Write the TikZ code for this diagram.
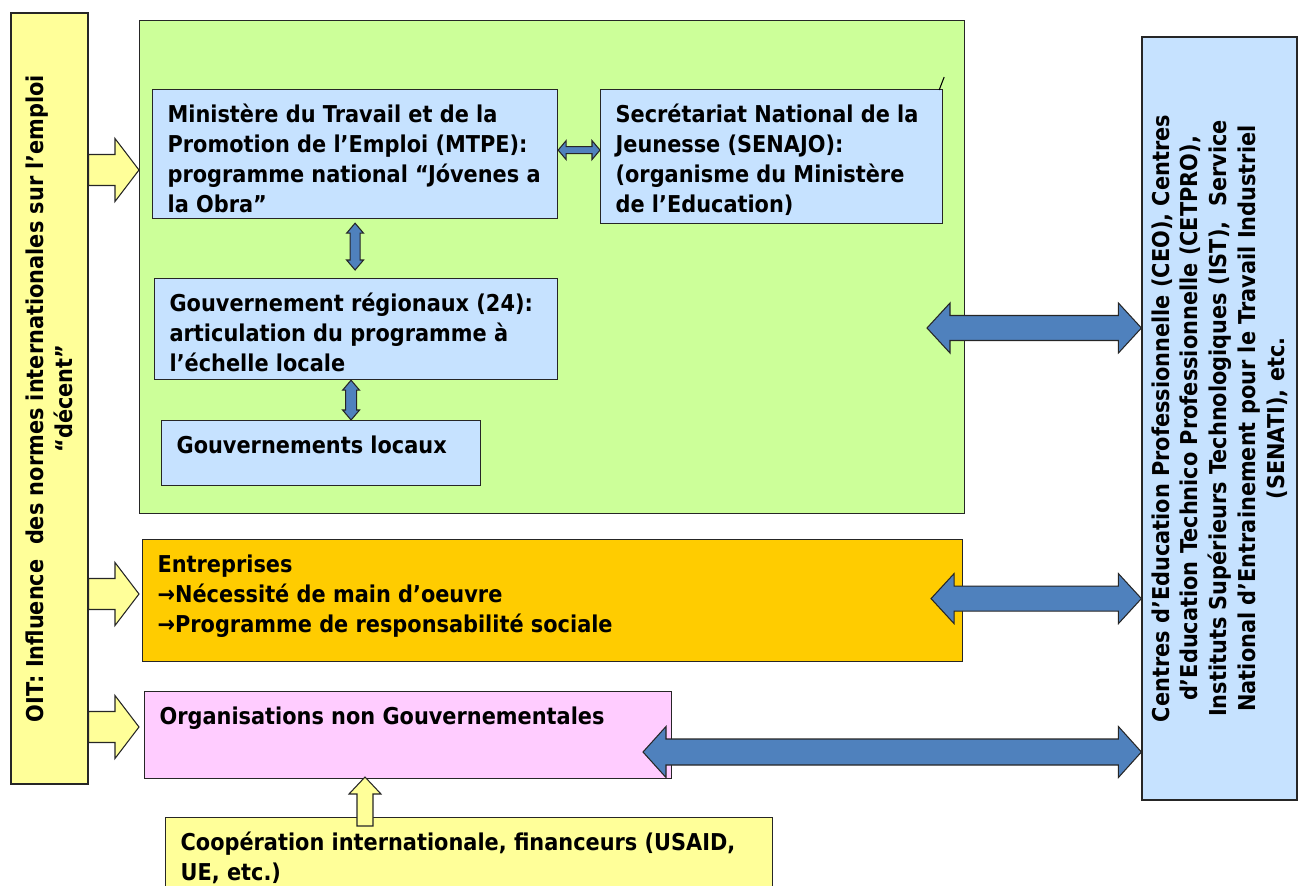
\documentclass[tikz,border=0pt]{standalone}
\usepackage{fontspec}
\setmainfont{DejaVu Sans}[FakeStretch=0.9]
\usetikzlibrary{calc, positioning}

\definecolor{oityellow}{RGB}{255,255,153}
\definecolor{govgreen}{RGB}{204,255,153}
\definecolor{paleblue}{RGB}{198,226,255}
\definecolor{firmorange}{RGB}{255,204,0}
\definecolor{ngopink}{RGB}{255,204,255}
\definecolor{linkblue}{RGB}{79,129,189}

\tikzset{panel/.style = {
  draw=black!85, line width=0.7pt,
  anchor=north west,
  inner xsep=0.3cm, inner ysep=0.24cm,
  font=\fontsize{13.2}{17}\selectfont\bfseries
  }}
\tikzset{sidebar/.style = {
  draw=black!85, line width=0.7pt,
  rotate=90, align=center, inner sep=0pt,
  font=\fontsize{13.2}{16.4}\selectfont\bfseries
  }}
\tikzset{bluearrow/.style = {fill=linkblue, draw=black!85, line width=0.6pt}}
\tikzset{yellowarrow/.style = {fill=oityellow, draw=black!85, line width=0.6pt}}

% text block of fixed size, top aligned
\newcommand{\boxtext}[3]{\parbox[c][#2][t]{#1}{\raggedright\strut #3}}

% block arrows: #1 #2 ends, #3 shaft half width, #4 head half width, #5 head length
\newcommand{\HDouble}[5]{%
  \draw[bluearrow] let \p1=(#1), \p2=(#2) in
    (\x1,\y1) -- (\x1+#5,\y1+#4) -- (\x1+#5,\y1+#3) -- (\x2-#5,\y1+#3)
    -- (\x2-#5,\y1+#4) -- (\x2,\y1) -- (\x2-#5,\y1-#4) -- (\x2-#5,\y1-#3)
    -- (\x1+#5,\y1-#3) -- (\x1+#5,\y1-#4) -- cycle;}
\newcommand{\VDouble}[5]{%
  \draw[bluearrow] let \p1=(#1), \p2=(#2) in
    (\x1,\y1) -- (\x1+#4,\y1-#5) -- (\x1+#3,\y1-#5) -- (\x1+#3,\y2+#5)
    -- (\x1+#4,\y2+#5) -- (\x1,\y2) -- (\x1-#4,\y2+#5) -- (\x1-#3,\y2+#5)
    -- (\x1-#3,\y1-#5) -- (\x1-#4,\y1-#5) -- cycle;}
\newcommand{\HSingle}[5]{%
  \draw[yellowarrow] let \p1=(#1), \p2=(#2) in
    (\x1,\y2+#3) -- (\x2-#5,\y2+#3) -- (\x2-#5,\y2+#4) -- (\x2,\y2)
    -- (\x2-#5,\y2-#4) -- (\x2-#5,\y2-#3) -- (\x1,\y2-#3) -- cycle;}
\newcommand{\VSingleUp}[5]{%
  \draw[yellowarrow] let \p1=(#1), \p2=(#2) in
    (\x2+#3,\y1) -- (\x2+#3,\y2-#5) -- (\x2+#4,\y2-#5) -- (\x2,\y2)
    -- (\x2-#4,\y2-#5) -- (\x2-#3,\y2-#5) -- (\x2-#3,\y1) -- cycle;}

\begin{document}
\begin{tikzpicture}[x={(0.02cm,0cm)}, y={(0cm,-0.02cm)}]

\useasboundingbox (0,0) rectangle (1302,886);

	% Public sector
	\node[panel, fill=govgreen, minimum width=16.5cm, minimum height=9.86cm] (govbox) at (139,20) {};
	\node[panel, fill=paleblue] (mtpe) at (152,89)
		{\boxtext{7.5cm}{2.10cm}{Ministère du Travail et de la\\Promotion de l’Emploi (MTPE):\\programme national “Jóvenes a\\la Obra”}};
	\node[panel, fill=paleblue] (senajo) at (600,89)
		{\boxtext{6.24cm}{2.20cm}{Secrétariat National de la\\Jeunesse (SENAJO):\\(organisme du Ministère\\de l’Education)}};
	\node[panel, fill=paleblue] (region) at (154,278)
		{\boxtext{7.46cm}{1.54cm}{Gouvernement régionaux (24):\\articulation du programme à\\l’échelle locale}};
	\node[panel, fill=paleblue] (local) at (161,420)
		{\boxtext{5.78cm}{0.82cm}{Gouvernements locaux}};
	\draw[line width=0.6pt] ($(senajo.north east)+(-4,1)$) -- ++(5,-13);

	\HDouble{$(mtpe.east)+(0,-4)$}{senajo.west}{0.07cm}{0.19cm}{0.16cm}
	\VDouble{$(mtpe.south)+(0,4)$}{$(region.north)+(0,-8)$}{0.1cm}{0.17cm}{0.2cm}
	\VDouble{$(region.south)+(-5,0)$}{local.north}{0.11cm}{0.17cm}{0.2cm}

	% Private sector and NGOs
	\node[panel, fill=firmorange] (firms) at (142,539)
		{\boxtext{15.8cm}{1.96cm}{Entreprises\\→Nécessité de main d’oeuvre\\→Programme de responsabilité sociale}};
	\node[panel, fill=ngopink] (ngo) at (144,691)
		{\boxtext{9.94cm}{1.26cm}{Organisations non Gouvernementales}};
	\node[panel, fill=oityellow] (coop) at (165,817)
		{\boxtext{11.54cm}{1.52cm}{Coopération internationale, financeurs (USAID,\\UE, etc.)}};

	% Side bars (rotated: south is the right side, north the left side)
	\node[sidebar, fill=oityellow, minimum width=15.42cm, minimum height=1.54cm] (oit) at (49.5,398.5)
		{OIT: Influence~ des normes internationales sur l’emploi\\“décent”};
	\node[sidebar, fill=paleblue, minimum width=15.26cm, minimum height=3.1cm] (centres) at (1219.5,418.5)
		{Centres d’Education Professionnelle (CEO), Centres\\d’Education Technico Professionnelle (CETPRO),\\Instituts Supérieurs Technologiques (IST),~ Service\\National d’Entrainement pour le Travail Industriel\\(SENATI), etc.};

	% Links
	\coordinate (o1) at (139,170);
	\coordinate (o2) at (139,594);
	\coordinate (o3) at (139,727);
	\HSingle{oit.south |- o1}{o1}{0.31cm}{0.63cm}{0.48cm}
	\HSingle{oit.south |- o2}{o2}{0.31cm}{0.63cm}{0.48cm}
	\HSingle{oit.south |- o3}{o3}{0.31cm}{0.63cm}{0.48cm}

	\coordinate (b1) at (927,328);
	\coordinate (b3) at (643,752);
	\HDouble{b1}{centres.north |- b1}{0.25cm}{0.5cm}{0.46cm}
	\HDouble{$(firms.east)+(-32,-2)$}{centres.north |- firms.east}{0.25cm}{0.5cm}{0.46cm}
	\HDouble{b3}{centres.north |- b3}{0.26cm}{0.51cm}{0.46cm}

	\coordinate (u1) at (365,777);
	\VSingleUp{$(coop.north)+(0,9)$}{u1}{0.16cm}{0.32cm}{0.34cm}

\end{tikzpicture}
\end{document}
